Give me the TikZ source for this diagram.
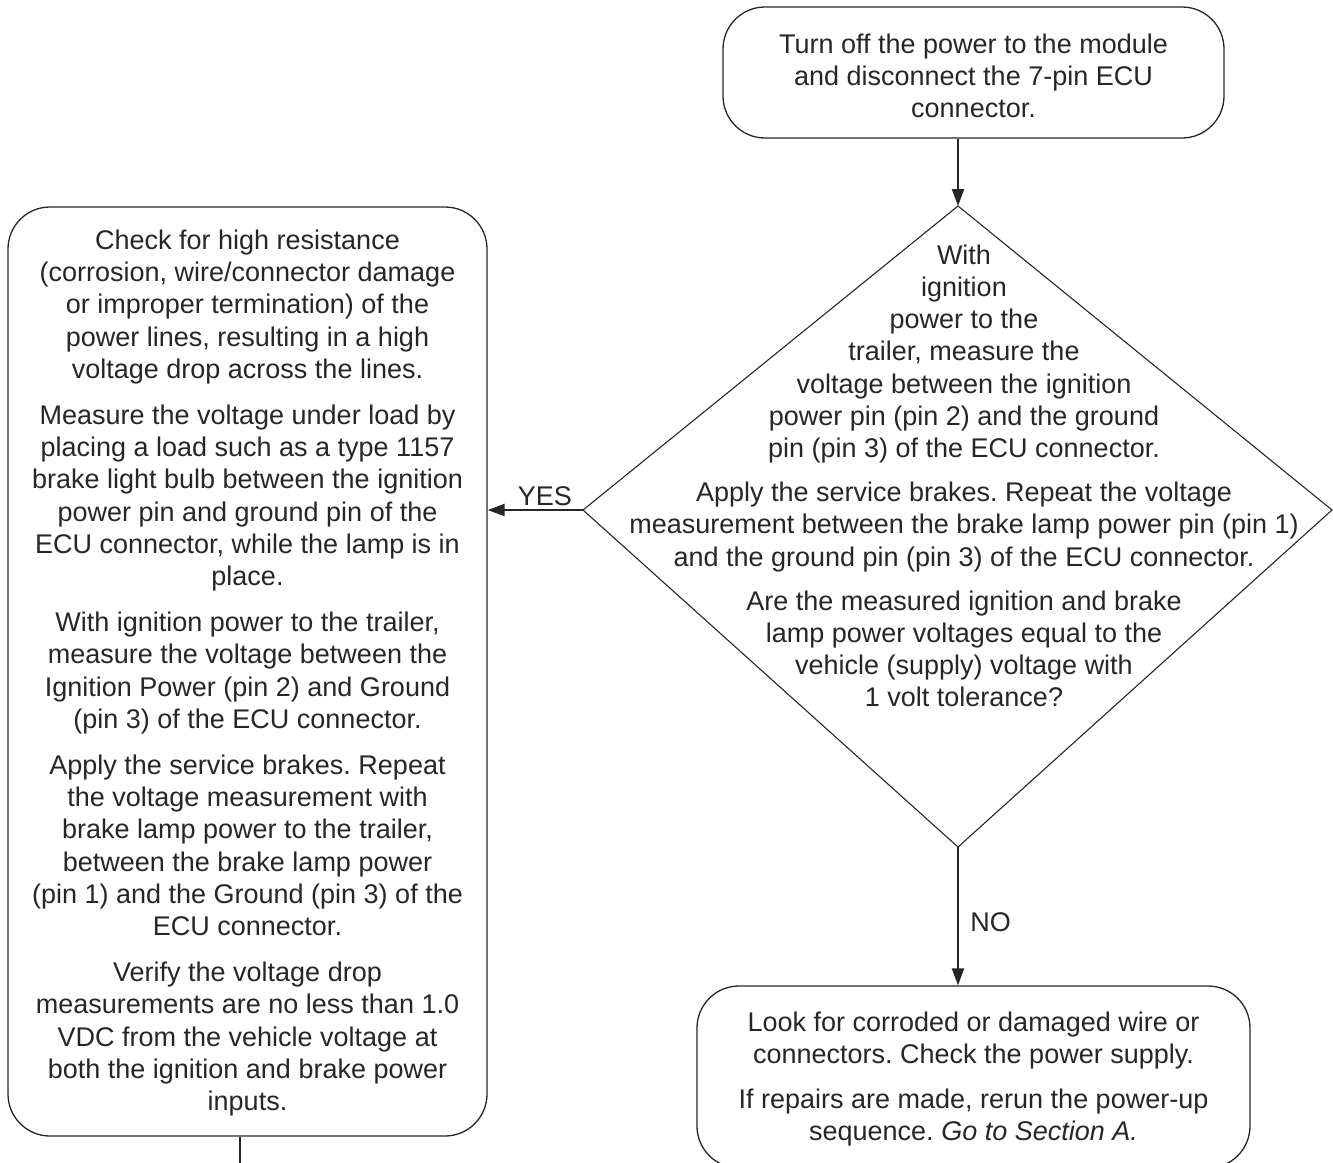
\documentclass[tikz,border=0pt]{standalone}
\usepackage{fontspec}
\setmainfont{Liberation Sans}
\usetikzlibrary{arrows.meta}
\frenchspacing

\begin{document}
\begin{tikzpicture}[x=1pt, y=-1pt,
  every node/.style={font=\fontsize{27}{32.2}\selectfont, text=black!85},
  rbox/.style={draw=black!85, line width=1.3pt, rounded corners=42pt,
               inner sep=0pt},
  txt/.style={align=center, inner sep=0pt},
  link/.style={draw=black!85, line width=2.2pt,
               -{Triangle[length=17pt, width=12pt]}},
  plainline/.style={draw=black!85, line width=2.2pt},
  rhombus/.style={draw=black!85, line width=1.1pt, line join=miter}
]
\useasboundingbox (0,0) rectangle (1333,1162);
\clip (0,0) rectangle (1333,1162);

% start step
\node[rbox, minimum width=501pt, minimum height=131pt] (start) at (973.5,72.5) {};
\node[txt] (start-text) at ([yshift=-3.5pt]start.center)
  {Turn off the power to the module\\
   and disconnect the 7-pin ECU\\
   connector.};

% decision
\coordinate (dT) at (958,206);
\coordinate (dR) at (1332,510);
\coordinate (dB) at (958,847);
\coordinate (dL) at (583,510);
\draw[rhombus] (dT) -- (dR) -- (dB) -- (dL) -- cycle;
\node[txt] (ask) at (964,476)
  {With\\
   ignition\\
   power to the\\
   trailer, measure the\\
   voltage between the ignition\\
   power pin (pin 2) and the ground\\
   pin (pin 3) of the ECU connector.\\[12pt]
   Apply the service brakes. Repeat the voltage\\
   measurement between the brake lamp power pin (pin 1)\\
   and the ground pin (pin 3) of the ECU connector.\\[12pt]
   Are the measured ignition and brake\\
   lamp power voltages equal to the\\
   vehicle (supply) voltage with\\
   1 volt tolerance?};

% yes branch
\node[rbox, minimum width=479pt, minimum height=929pt] (check) at (247.5,671.5) {};
\node[txt] (check-text) at ([yshift=-1.5pt]check.center)
  {Check for high resistance\\
   (corrosion, wire/connector damage\\
   or improper termination) of the\\
   power lines, resulting in a high\\
   voltage drop across the lines.\\[14pt]
   Measure the voltage under load by\\
   placing a load such as a type 1157\\
   brake light bulb between the ignition\\
   power pin and ground pin of the\\
   ECU connector, while the lamp is in\\
   place.\\[14pt]
   With ignition power to the trailer,\\
   measure the voltage between the\\
   Ignition Power (pin 2) and Ground\\
   (pin 3) of the ECU connector.\\[14pt]
   Apply the service brakes. Repeat\\
   the voltage measurement with\\
   brake lamp power to the trailer,\\
   between the brake lamp power\\
   (pin 1) and the Ground (pin 3) of the\\
   ECU connector.\\[14pt]
   Verify the voltage drop\\
   measurements are no less than 1.0\\
   VDC from the vehicle voltage at\\
   both the ignition and brake power\\
   inputs.};

% no branch
\node[rbox, minimum width=553pt, minimum height=182pt] (look) at (973.5,1077) {};
\node[txt] (look-text) at ([yshift=-2pt]look.center)
  {Look for corroded or damaged wire or\\
   connectors. Check the power supply.\\[12pt]
   If repairs are made, rerun the power-up\\
   sequence. \textit{Go to Section A.}};

% connectors
\draw[link] (start.south -| dT) -- (dT);
\draw[link] (dL) -- (dL -| check.east) node[pos=0.4, above] {YES};
\draw[link] (dB) -- (look.north -| dB) node[pos=0.54, right=8pt] {NO};
\coordinate (onward) at (240,1175);
\draw[plainline] (check.south -| onward) -- (onward);
\end{tikzpicture}
\end{document}
